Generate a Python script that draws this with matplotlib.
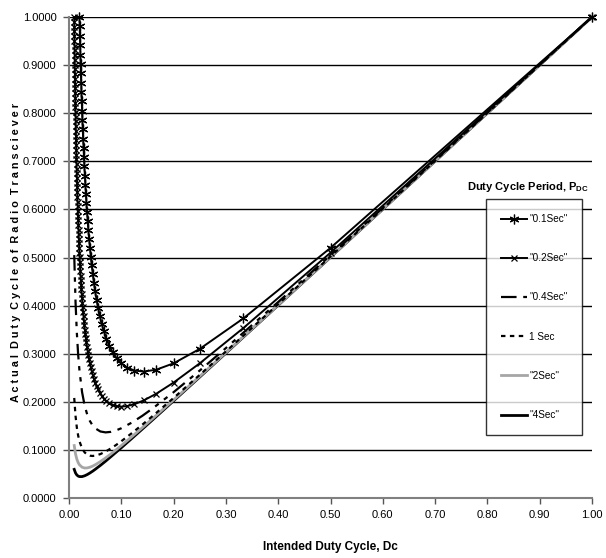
import matplotlib.pyplot as plt
from matplotlib.lines import Line2D

# intended duty cycle at which the marked series were sampled (1/n, n = 1..100)
dc_marked = [1.0, 0.5, 0.3333, 0.25, 0.2, 0.1667, 0.1429, 0.125, 0.1111, 0.1,
             0.0909, 0.0833, 0.0769, 0.0714, 0.0667, 0.0625, 0.0588, 0.0556, 0.0526, 0.05,
             0.0476, 0.0455, 0.0435, 0.0417, 0.04, 0.0385, 0.037, 0.0357, 0.0345, 0.0333,
             0.0323, 0.0313, 0.0303, 0.0294, 0.0286, 0.0278, 0.027, 0.0263, 0.0256, 0.025,
             0.0244, 0.0238, 0.0233, 0.0227, 0.0222, 0.0217, 0.0213, 0.0208, 0.0204, 0.02,
             0.0196, 0.0192, 0.0189, 0.0185, 0.0182, 0.0179, 0.0175, 0.0172, 0.0169, 0.0167,
             0.0164, 0.0161, 0.0159, 0.0156, 0.0154, 0.0152, 0.0149, 0.0147, 0.0145, 0.0143,
             0.0141, 0.0139, 0.0137, 0.0135, 0.0133, 0.0132, 0.013, 0.0128, 0.0127, 0.0125,
             0.0123, 0.0122, 0.012, 0.0119, 0.0118, 0.0116, 0.0115, 0.0114, 0.0112, 0.0111,
             0.011, 0.0109, 0.0108, 0.0106, 0.0105, 0.0104, 0.0103, 0.0102, 0.0101, 0.01]

act_01 = [1.0, 0.52, 0.3733, 0.31, 0.28, 0.2667, 0.2629, 0.265, 0.2711, 0.28,
          0.2909, 0.3033, 0.3169, 0.3314, 0.3467, 0.3625, 0.3788, 0.3956, 0.4126, 0.43,
          0.4476, 0.4655, 0.4835, 0.5017, 0.52, 0.5385, 0.557, 0.5757, 0.5945, 0.6133,
          0.6323, 0.6513, 0.6703, 0.6894, 0.7086, 0.7278, 0.747, 0.7663, 0.7856, 0.805,
          0.8244, 0.8438, 0.8633, 0.8827, 0.9022, 0.9217, 0.9413, 0.9608, 0.9804, 1.0]

act_02 = [1.0, 0.51, 0.3533, 0.28, 0.24, 0.2167, 0.2029, 0.195, 0.1911, 0.19,
          0.1909, 0.1933, 0.1969, 0.2014, 0.2067, 0.2125, 0.2188, 0.2256, 0.2326, 0.24,
          0.2476, 0.2555, 0.2635, 0.2717, 0.28, 0.2885, 0.297, 0.3057, 0.3145, 0.3233,
          0.3323, 0.3413, 0.3503, 0.3594, 0.3686, 0.3778, 0.387, 0.3963, 0.4056, 0.415,
          0.4244, 0.4338, 0.4433, 0.4527, 0.4622, 0.4717, 0.4813, 0.4908, 0.5004, 0.51,
          0.5196, 0.5292, 0.5389, 0.5485, 0.5582, 0.5679, 0.5775, 0.5872, 0.5969, 0.6067,
          0.6164, 0.6261, 0.6359, 0.6456, 0.6554, 0.6652, 0.6749, 0.6847, 0.6945, 0.7043,
          0.7141, 0.7239, 0.7337, 0.7435, 0.7533, 0.7632, 0.773, 0.7828, 0.7927, 0.8025,
          0.8123, 0.8222, 0.832, 0.8419, 0.8518, 0.8616, 0.8715, 0.8814, 0.8912, 0.9011,
          0.911, 0.9209, 0.9308, 0.9406, 0.9505, 0.9604, 0.9703, 0.9802, 0.9901, 1.0]

# unmarked series, read at fewer points
dc_plain = [0.01, 0.0125, 0.015, 0.0175, 0.02, 0.025, 0.03, 0.035, 0.04, 0.045,
            0.05, 0.06, 0.07, 0.08, 0.09, 0.1, 0.12, 0.14, 0.16, 0.2,
            0.25, 0.3, 0.4, 0.5, 0.6, 0.7, 0.8, 0.9, 1.0]

act_04 = [0.505, 0.4075, 0.3433, 0.2982, 0.265, 0.22, 0.1917, 0.1729, 0.16, 0.1511,
          0.145, 0.1383, 0.1364, 0.1375, 0.1406, 0.145, 0.1567, 0.1707, 0.1863, 0.22,
          0.265, 0.3117, 0.4075, 0.505, 0.6033, 0.7021, 0.8013, 0.9006, 1.0]
act_1 = [0.208, 0.1705, 0.1463, 0.1298, 0.118, 0.103, 0.0947, 0.0901, 0.088, 0.0874,
         0.088, 0.0913, 0.0966, 0.103, 0.1102, 0.118, 0.1347, 0.1523, 0.1705, 0.208,
         0.256, 0.3047, 0.403, 0.502, 0.6013, 0.7009, 0.8005, 0.9002, 1.0]
act_2 = [0.109, 0.0915, 0.0807, 0.0736, 0.069, 0.064, 0.0623, 0.0626, 0.064, 0.0662,
         0.069, 0.0757, 0.0833, 0.0915, 0.1001, 0.109, 0.1273, 0.1461, 0.1653, 0.204,
         0.253, 0.3023, 0.4015, 0.501, 0.6007, 0.7004, 0.8003, 0.9001, 1.0]
act_4 = [0.0595, 0.052, 0.0478, 0.0456, 0.0445, 0.0445, 0.0462, 0.0488, 0.052, 0.0556,
         0.0595, 0.0678, 0.0766, 0.0858, 0.0951, 0.1045, 0.1237, 0.1431, 0.1626, 0.202,
         0.2515, 0.3012, 0.4008, 0.5005, 0.6003, 0.7002, 0.8001, 0.9001, 1.0]

labels = ['"0.1Sec"', '"0.2Sec"', '"0.4Sec"', '1 Sec', '"2Sec"', '"4Sec"']
xticks = [0.0, 0.1, 0.2, 0.3, 0.4, 0.5, 0.6, 0.7, 0.8, 0.9, 1.0]
yticks = [0.0, 0.1, 0.2, 0.3, 0.4, 0.5, 0.6, 0.7, 0.8, 0.9, 1.0]

plt.rcParams['font.family'] = ['Liberation Sans Narrow', 'Liberation Sans', 'DejaVu Sans']

fig = plt.figure(figsize=(6.06, 5.58), dpi=100)
ax = fig.add_axes([69 / 606, 1 - 498 / 558, 523 / 606, 481 / 558])

asterisk = (6, 2, 0)
ax.plot(dc_plain, act_4, color='black', lw=2.0, zorder=3)
ax.plot(dc_plain, act_2, color='#a6a6a6', lw=2.0, zorder=3)
ax.plot(dc_plain, act_1, color='black', lw=1.6, dashes=(2, 2), zorder=3)
ax.plot(dc_plain, act_04, color='black', lw=1.6, dashes=(7, 3, 2, 3, 2, 3), zorder=3)
ax.plot(dc_marked, act_02, color='black', lw=1.4, marker='x', ms=5, mew=0.9,
        zorder=4, clip_on=False)
ax.plot(dc_marked[:50], act_01, color='black', lw=1.4, marker=asterisk, ms=7, mew=0.9,
        zorder=4, clip_on=False)

ax.set_xlim(0, 1)
ax.set_ylim(0, 1)
ax.set_xticks(xticks)
ax.set_xticklabels(['%.2f' % t for t in xticks], fontsize=8)
ax.set_yticks(yticks)
ax.set_yticklabels(['%.4f' % t for t in yticks], fontsize=8)
ax.tick_params(direction='out', length=4, width=1, color='#555555', pad=5)
ax.grid(axis='y', color='black', lw=1.0)
ax.set_axisbelow(True)
for side in ['top', 'right']:
    ax.spines[side].set_visible(False)
for side in ['left', 'bottom']:
    ax.spines[side].set_color('#808080')
    ax.spines[side].set_linewidth(1.5)

ax.set_xlabel('Intended Duty Cycle, Dc', fontsize=8.5, fontweight='bold')
ax.xaxis.set_label_coords(0.5, -43 / 481)
ax.set_ylabel('A c t u a l  D u t y  C y c l e  o f  R a d i o  T r a n s c i e v e r',
              fontsize=7.8, fontweight='bold', va='center')
ax.yaxis.set_label_coords(-53 / 523, 0.51)

# legend, in the order of the reference
handles = [
    Line2D([], [], color='black', lw=1.4, marker=asterisk, ms=7, mew=0.9),
    Line2D([], [], color='black', lw=1.4, marker='x', ms=5, mew=0.9),
    Line2D([], [], color='black', lw=1.6, dashes=(7, 3, 2, 3, 2, 3)),
    Line2D([], [], color='black', lw=1.6, dashes=(2, 2)),
    Line2D([], [], color='#a6a6a6', lw=2.0),
    Line2D([], [], color='black', lw=2.0),
]
leg = ax.legend(handles, labels, loc='upper left', bbox_to_anchor=(417 / 523, 1 - 182 / 481),
                frameon=True, fancybox=False, edgecolor='black', fontsize=7.2,
                handlelength=2.6, handletextpad=0.2, labelspacing=2.92,
                borderpad=1.5, borderaxespad=0)
leg.get_frame().set_linewidth(1.0)
leg.set_zorder(5)

fig.text(528 / 606, 1 - 187 / 558, 'Duty Cycle Period, P$_{\\mathregular{DC}}$',
         ha='center', va='center', fontsize=8, fontweight='bold')

fig.savefig('out.png', dpi=100)
